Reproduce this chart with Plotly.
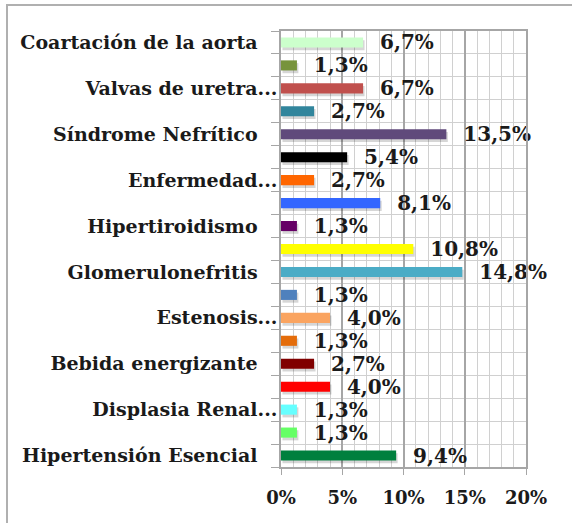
import plotly.graph_objects as go

SP = "\u00a0\u00a0\u00a0"
categories = [
    "Coartación de la aorta" + SP, "", "Valvas de uretra...", "",
    "Síndrome Nefrítico" + SP, "", "Enfermedad...", "",
    "Hipertiroidismo" + SP, "", "Glomerulonefritis" + SP, "",
    "Estenosis...", "", "Bebida energizante" + SP, "",
    "Displasia Renal...", "", "Hipertensión Esencial" + SP,
]
values = [0.067, 0.013, 0.067, 0.027, 0.135, 0.054, 0.027, 0.081, 0.013, 0.108,
          0.148, 0.013, 0.040, 0.013, 0.027, 0.040, 0.013, 0.013, 0.094]
colors = ["#CCFFCC", "#77933C", "#C0504D", "#31859C", "#604A7B", "#000000", "#FF6600",
          "#3366FF", "#660066", "#FFFF00", "#4BACC6", "#4F81BD", "#FAA460", "#E46C0A",
          "#800000", "#FF0000", "#66FFFF", "#66FF66", "#00803E"]
x_ticks = [0, 0.05, 0.10, 0.15, 0.20]

ypos = list(range(len(values)))
label_idx = [i for i, c in enumerate(categories) if c]
FONT = "DejaVu Serif"

fig = go.Figure()
# shadow
fig.add_trace(go.Bar(
    x=values, y=ypos, orientation="h", base=0.0012, width=0.44, offset=-0.22 + 0.12,
    marker=dict(color="rgba(0,0,0,0.16)", line=dict(width=0)), hoverinfo="skip",
))
fig.add_trace(go.Bar(
    x=values, y=ypos, orientation="h", width=0.44, offset=-0.22,
    marker=dict(color=colors, line=dict(width=0)),
    text=values, texttemplate="\u00a0\u00a0%{x:.1%}", textposition="outside",
    constraintext="none",
    textfont=dict(family=FONT, size=20, color="#1a1a1a", weight="bold"),
    cliponaxis=False,
))

W, H = 572, 523
L, R, T, B = 281, 46, 31, 56
pw, ph = W - L - R, H - T - B

fig.update_layout(
    width=W, height=H, margin=dict(l=L, r=R, t=T, b=B),
    paper_bgcolor="white", plot_bgcolor="white",
    barmode="overlay", showlegend=False, separators=",.",
    font=dict(family=FONT, size=18, color="#1a1a1a", weight="bold"),
    xaxis=dict(
        range=[0, 0.20], tickvals=x_ticks, tickformat=".0%",
        showgrid=True, gridcolor="#A6A6A6", gridwidth=1.5,
        minor=dict(dtick=0.01, tick0=0, showgrid=True, gridcolor="#D0D0D0", gridwidth=1),
        ticks="outside", ticklen=6, tickcolor="#A6A6A6",
        showline=True, linecolor="#A6A6A6", linewidth=1.5, mirror=True,
        zeroline=False, ticklabelstandoff=8,
        tickfont=dict(family=FONT, size=18, color="#1a1a1a", weight="bold"),
    ),
    yaxis=dict(
        range=[len(values) - 0.5, -0.5],
        tickvals=label_idx, ticktext=[categories[i] for i in label_idx],
        ticks="", showgrid=False,
        minor=dict(tick0=0.5, dtick=1, showgrid=True, gridcolor="#D0D0D0", gridwidth=1,
                   ticks="outside", ticklen=8, tickcolor="#A6A6A6"),
        showline=True, linecolor="#A6A6A6", linewidth=1.5, mirror=True,
        zeroline=False, ticklabelstandoff=-2,
        tickfont=dict(family=FONT, size=19, color="#1a1a1a", weight="bold"),
    ),
    shapes=[dict(
        type="rect", xref="paper", yref="paper",
        x0=(7 - L) / pw, x1=(W + 10 - L) / pw,
        y0=(H - B - (H + 10)) / ph, y1=(H - B - 5) / ph,
        line=dict(color="#B0B0B0", width=2), layer="below",
    )],
)

fig.write_html(
    "out.html",
    config={"displayModeBar": False},
    post_script="document.body.style.margin='0';document.body.style.overflow='hidden';",
)
